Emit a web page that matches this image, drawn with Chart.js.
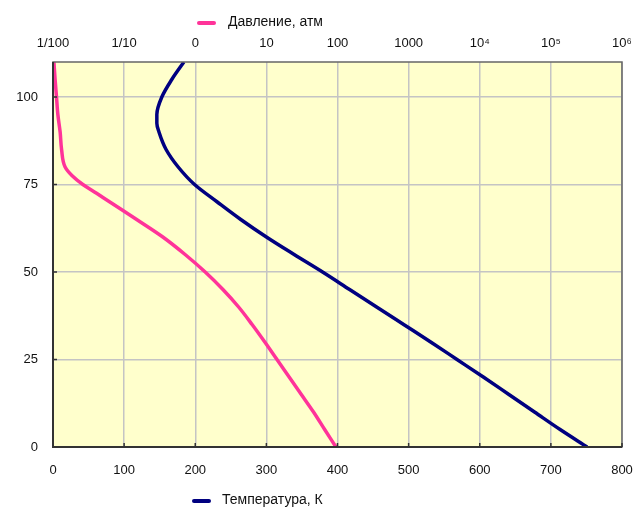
<!DOCTYPE html>
<html lang="ru">
<head>
<meta charset="utf-8">
<title>Атмосфера</title>
<script src="https://cdn.jsdelivr.net/npm/chart.js"></script>
<style>
  body { margin: 0; background: #fff; }
  #wrap { width: 639px; height: 511px; }
</style>
</head>
<body>
<div id="wrap"><canvas id="chart"></canvas></div>
<script>
  // высота, км
  const heights = [0, 5, 10, 15, 20, 25, 30, 35, 40, 45, 50, 55, 60, 65, 70, 75, 80, 85, 90, 92.5, 95, 100, 105, 110]
  // температура, K
  const temps = [751, 713, 677, 641, 605, 568, 531, 493, 455, 417, 379, 339, 300, 264, 231, 199, 176, 159, 149, 146, 146, 153, 167, 184]

  // давление, атм
  const presHeights = [0, 5, 10, 15, 20, 25, 30, 35, 40, 45, 50, 55, 60, 65, 70, 72.5, 75, 77.5, 80, 85, 90, 95, 100, 105, 110]
  const pressures = [95, 66, 46, 31, 20.9, 14.1, 9.5, 6.3, 4.07, 2.45, 1.38, 0.72, 0.35, 0.15, 0.063, 0.041, 0.0263, 0.0186, 0.0148, 0.0132, 0.0126, 0.0117, 0.0112, 0.0107, 0.0103]

  const presTicks = [0.01, 0.1, 1, 10, 100, 1000, 1e4, 1e5, 1e6]
  const presLabels = ['1/100', '1/10', '0', '10', '100', '1000', '10⁴', '10⁵', '10⁶']

  const PINK = '#ff3399'
  const NAVY = '#000080'
  const FONT = "'Liberation Sans', Arial, sans-serif"

  const tempPoints = heights.map((h, i) => ({ x: temps[i], y: h }))
  const presPoints = presHeights.map((h, i) => ({ x: pressures[i], y: h }))

  // фон, рамка, засечки и подписи легенды
  const decor = {
    id: 'decor',
    beforeDraw(chart) {
      const { ctx, chartArea: a } = chart
      ctx.save()
      ctx.fillStyle = '#ffffcc'
      ctx.fillRect(a.left, a.top, a.right - a.left, a.bottom - a.top)
      ctx.restore()
    },
    afterDraw(chart) {
      const { ctx, chartArea: a, scales } = chart
      ctx.save()
      ctx.strokeStyle = '#666'
      ctx.lineWidth = 1.5
      ctx.strokeRect(a.left, a.top, a.right - a.left, a.bottom - a.top)
      ctx.strokeStyle = '#333'
      ctx.lineWidth = 2
      ctx.beginPath()
      ctx.moveTo(a.left, a.top)
      ctx.lineTo(a.left, a.bottom)
      ctx.lineTo(a.right, a.bottom)
      ctx.stroke()
      ctx.lineWidth = 1.5
      ctx.beginPath()
      scales.x.ticks.forEach(t => {
        const px = scales.x.getPixelForValue(t.value)
        ctx.moveTo(px, a.bottom)
        ctx.lineTo(px, a.bottom - 4)
      })
      scales.y.ticks.forEach(t => {
        const py = scales.y.getPixelForValue(t.value)
        ctx.moveTo(a.left, py)
        ctx.lineTo(a.left + 4, py)
      })
      ctx.stroke()

      ctx.lineCap = 'round'
      ctx.lineWidth = 4
      ctx.strokeStyle = PINK
      ctx.beginPath()
      ctx.moveTo(199, 23)
      ctx.lineTo(214, 23)
      ctx.stroke()
      ctx.strokeStyle = NAVY
      ctx.beginPath()
      ctx.moveTo(194, 501)
      ctx.lineTo(209, 501)
      ctx.stroke()

      ctx.fillStyle = '#111'
      ctx.font = '14px ' + FONT
      ctx.textBaseline = 'middle'
      ctx.textAlign = 'left'
      ctx.fillText('Давление, атм', 228, 22)
      ctx.fillText('Температура, К', 222, 500)
      ctx.restore()
    }
  }

  const config = {
    type: 'line',
    data: {
      datasets: [
        {
          label: 'Давление, атм',
          data: presPoints,
          xAxisID: 'x2',
          borderColor: PINK,
          backgroundColor: PINK,
          borderWidth: 3.5,
          pointRadius: 0,
          cubicInterpolationMode: 'monotone'
        },
        {
          label: 'Температура, К',
          data: tempPoints,
          xAxisID: 'x',
          borderColor: NAVY,
          backgroundColor: NAVY,
          borderWidth: 3.5,
          pointRadius: 0,
          cubicInterpolationMode: 'monotone'
        }
      ]
    },
    options: {
      indexAxis: 'y',
      responsive: true,
      maintainAspectRatio: false,
      animation: false,
      layout: { padding: { left: 0, right: 17, top: 0, bottom: 0 } },
      plugins: {
        legend: { display: false },
        tooltip: { enabled: false }
      },
      scales: {
        x: {
          type: 'linear',
          position: 'bottom',
          min: 0,
          max: 800,
          ticks: { stepSize: 100, color: '#111', padding: 2, maxRotation: 0, font: { family: FONT, size: 13 } },
          grid: { color: '#c4c4c4', lineWidth: 1.5, drawTicks: true, tickLength: 14, tickColor: 'rgba(0,0,0,0)' },
          border: { display: false },
          afterFit(s) { s.height = 64 }
        },
        x2: {
          type: 'logarithmic',
          position: 'top',
          min: 0.01,
          max: 1e6,
          afterBuildTicks(s) { s.ticks = presTicks.map(v => ({ value: v })) },
          ticks: {
            color: '#111',
            padding: 2,
            maxRotation: 0,
            autoSkip: false,
            font: { family: FONT, size: 13 },
            callback: (v) => presLabels[presTicks.indexOf(v)]
          },
          grid: { color: 'rgba(0,0,0,0)', drawOnChartArea: false, drawTicks: true, tickLength: 9, tickColor: 'rgba(0,0,0,0)' },
          border: { display: false },
          afterFit(s) { s.height = 62 }
        },
        y: {
          type: 'linear',
          position: 'left',
          min: 0,
          max: 110,
          afterBuildTicks(s) { s.ticks = s.ticks.filter(t => t.value % 25 === 0) },
          ticks: { stepSize: 25, color: '#111', padding: 15, font: { family: FONT, size: 13 } },
          grid: { color: '#c4c4c4', lineWidth: 1.5, drawTicks: false },
          border: { display: false },
          afterFit(s) { s.width = 53 }
        }
      }
    },
    plugins: [decor]
  }

  var chart = new Chart(document.getElementById('chart'), config)
</script>
</body>
</html>
